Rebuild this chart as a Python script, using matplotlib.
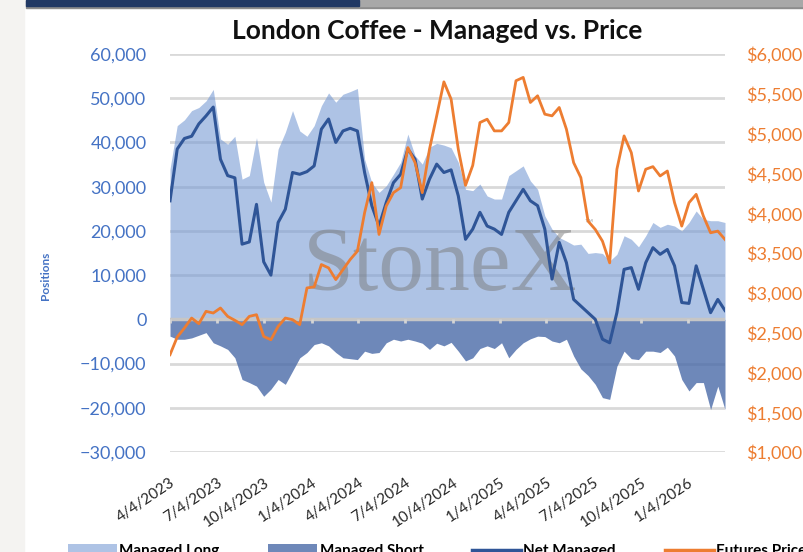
import numpy as np
import pandas as pd
import matplotlib
matplotlib.use("Agg")
import matplotlib.pyplot as plt
from matplotlib.patches import Rectangle, Patch
from matplotlib.lines import Line2D
from matplotlib.ticker import StrMethodFormatter

plt.rcParams['font.family'] = ['Lato', 'DejaVu Sans']

# biweekly COT readings (positions) and London coffee futures price
dates = pd.date_range("2023-04-04", periods=78, freq="14D")

managed_long = [
    34000, 43800, 45100, 47200, 47900, 49400, 52000, 40800, 39600, 41400,
    31700, 32500, 41100, 31000, 26500, 38500, 42300, 47200, 42600, 41400,
    43800, 48300, 51200, 49100, 50900, 51500, 52200, 36200, 30900, 28700,
    30200, 32800, 35500, 41900, 37000, 35100, 38900, 39800, 39400, 38800,
    35500, 29400, 29100, 30600, 27900, 27200, 27200, 32500, 33600, 34700,
    31300, 29400, 23400, 20400, 18500, 17700, 16800, 17000, 14900, 15100,
    14900, 13200, 14700, 18900, 18100, 16400, 18900, 21900, 20800, 21500,
    21100, 20000, 21900, 24500, 22600, 22300, 22300, 21900]

managed_short = [
    -3800, -4500, -4500, -4200, -3600, -3000, -5300, -6000, -6800, -8700,
    -13600, -14300, -15100, -17400, -15800, -13600, -14700, -11700, -8700, -7500,
    -5700, -5300, -6000, -7500, -8700, -8900, -9100, -7200, -7700, -7500,
    -5300, -4500, -4900, -4500, -4900, -5400, -6800, -5400, -6000, -5200,
    -7200, -9400, -8700, -6600, -6000, -6600, -5300, -8700, -6800, -5300,
    -4400, -3800, -3900, -4900, -5300, -4500, -8300, -11200, -12700, -14700,
    -17700, -18100, -10600, -7200, -8900, -9100, -7200, -7200, -7500, -6300,
    -8300, -13600, -16200, -14300, -14300, -20400, -15100, -20400]

net_managed = [
    26800, 38500, 40900, 41400, 44200, 46000, 48000, 36200, 32500, 32000,
    17000, 17500, 26000, 13000, 10000, 21900, 24900, 33200, 32800, 33400,
    34700, 43000, 45300, 40000, 42600, 43200, 42600, 33200, 25700, 21100,
    26400, 30900, 32800, 38500, 36200, 27200, 31700, 35100, 33200, 33800,
    27900, 18100, 20400, 24200, 21100, 20400, 19200, 24200, 26800, 29400,
    26800, 25700, 20400, 9100, 17400, 12800, 4500, 3000, 1500, 0,
    -4500, -5300, 1500, 11300, 11700, 6800, 12800, 16200, 14700, 15800,
    12100, 3800, 3600, 12100, 6800, 1500, 4500, 2000]

futures_price = [
    2222, 2444, 2557, 2683, 2612, 2767, 2746, 2809, 2704, 2654,
    2600, 2704, 2725, 2452, 2410, 2578, 2683, 2662, 2600, 3061,
    3074, 3355, 3313, 3166, 3292, 3418, 3523, 4006, 4384, 3733,
    4090, 4258, 4321, 4824, 4635, 4258, 4803, 5223, 5650, 5433,
    4803, 4350, 4600, 5139, 5181, 5034, 5034, 5139, 5664, 5706,
    5391, 5475, 5244, 5223, 5328, 5055, 4635, 4447, 3900, 3796,
    3649, 3376, 4552, 4971, 4761, 4279, 4552, 4585, 4468, 4530,
    4132, 3838, 4132, 4237, 3964, 3754, 3775, 3670]

tick_dates = pd.to_datetime([
    "2023-04-04", "2023-07-04", "2023-10-04", "2024-01-04",
    "2024-04-04", "2024-07-04", "2024-10-04", "2025-01-04",
    "2025-04-04", "2025-07-04", "2025-10-04", "2026-01-04"])
tick_labels = ["4/4/2023", "7/4/2023", "10/4/2023", "1/4/2024",
               "4/4/2024", "7/4/2024", "10/4/2024", "1/4/2025",
               "4/4/2025", "7/4/2025", "10/4/2025", "1/4/2026"]

long_col = '#789bd4'
short_col = '#4a6aa8'
net_col = '#2f5597'
price_col = '#ed7d31'
left_lab = '#4472c4'

fig = plt.figure(figsize=(8.04, 5.52), dpi=100)

# screenshot chrome: grey strip on the left and the tab bar on top
fig.patches.append(Rectangle((0, 0), 24/804, 1, transform=fig.transFigure,
                             color='#f4f3f1', zorder=0))
fig.patches.append(Rectangle((26/804, 1-8/552), 778/804, 8/552, transform=fig.transFigure,
                             color='#8c8c8c', zorder=0))
fig.patches.append(Rectangle((359/804, 1-6/552), 445/804, 6/552, transform=fig.transFigure,
                             color='#a8a8a8', zorder=0))
fig.patches.append(Rectangle((26/804, 1-6/552), 333/804, 6/552, transform=fig.transFigure,
                             color='#203864', zorder=0))

ax = fig.add_axes([170/804, 1-452/552, 555/804, 398/552])
ax2 = ax.twinx()

ax.fill_between(dates, 0, managed_long, color=long_col, alpha=0.6, lw=0, zorder=1)
ax.fill_between(dates, 0, managed_short, color=short_col, alpha=0.8, lw=0, zorder=1)
ax.axhline(0, color='#c6c6c6', lw=2.5, zorder=2)
ax.vlines(tick_dates, -900, 0, color='#d4d4d4', lw=2, zorder=2)

# StoneX watermark
ax.text(0.486, 0.407, "StoneX", transform=ax.transAxes, ha='center', va='baseline',
        fontsize=66, family=['Liberation Serif', 'DejaVu Serif'], color='#7a7a7a',
        alpha=0.5, zorder=3)
ax.text(0.755, 0.575, "\u2122", transform=ax.transAxes, ha='center', va='center',
        fontsize=8, color='#7a7a7a', alpha=0.6, zorder=3)

ax.plot(dates, net_managed, color=net_col, lw=2.2, zorder=4)
ax2.plot(dates, futures_price, color=price_col, lw=2.0)

ax.set_xlim(dates[0], dates[-1])
ax.set_ylim(-30000, 60000)
ax.set_yticks(np.arange(-30000, 60001, 10000))
ax.yaxis.set_major_formatter(StrMethodFormatter('{x:,.0f}'))
ax.grid(axis='y', color='#d9d9d9', lw=2)
ax.set_axisbelow(True)

ax2.set_ylim(1000, 6000)
ax2.set_yticks(np.arange(1000, 6001, 500))
ax2.yaxis.set_major_formatter(StrMethodFormatter('${x:,.0f}'))

ax.set_xticks(tick_dates)
ax.set_xticklabels(tick_labels, rotation=34, ha='right', va='top',
                   rotation_mode='anchor', fontsize=11, color='#262626')
ax.tick_params(axis='x', length=0, pad=17)
ax.tick_params(axis='y', length=0, pad=17, labelsize=13, labelcolor=left_lab)
ax2.tick_params(axis='y', length=0, pad=15, labelsize=13, labelcolor=price_col)

for a in (ax, ax2):
    for s in a.spines.values():
        s.set_visible(False)

fig.text(437/804, 1-31/552, "London Coffee - Managed vs. Price", ha='center', va='center',
         fontsize=19, fontweight='bold', color='#111111')
fig.text(46/804, 1-276/552, "Positions", rotation=90, ha='center', va='center',
         fontsize=8.5, fontweight='bold', color=left_lab)

# legend sits at the very bottom edge, partly clipped as in the source screenshot
handles = [Patch(facecolor=long_col, alpha=0.6, lw=0),
           Patch(facecolor=short_col, alpha=0.8, lw=0),
           Line2D([], [], color=net_col, lw=2.5),
           Line2D([], [], color=price_col, lw=2.5)]
fig.legend(handles, ["Managed Long", "Managed Short", "Net Managed", "Futures Price"],
           loc='upper left', bbox_to_anchor=(68/804, 1-544/552), ncol=4, frameon=False,
           prop={'size': 11, 'weight': 'bold'}, handlelength=3.2, handletextpad=0.15,
           columnspacing=3.2, borderpad=0, borderaxespad=0)

fig.savefig("out.png", dpi=100)
